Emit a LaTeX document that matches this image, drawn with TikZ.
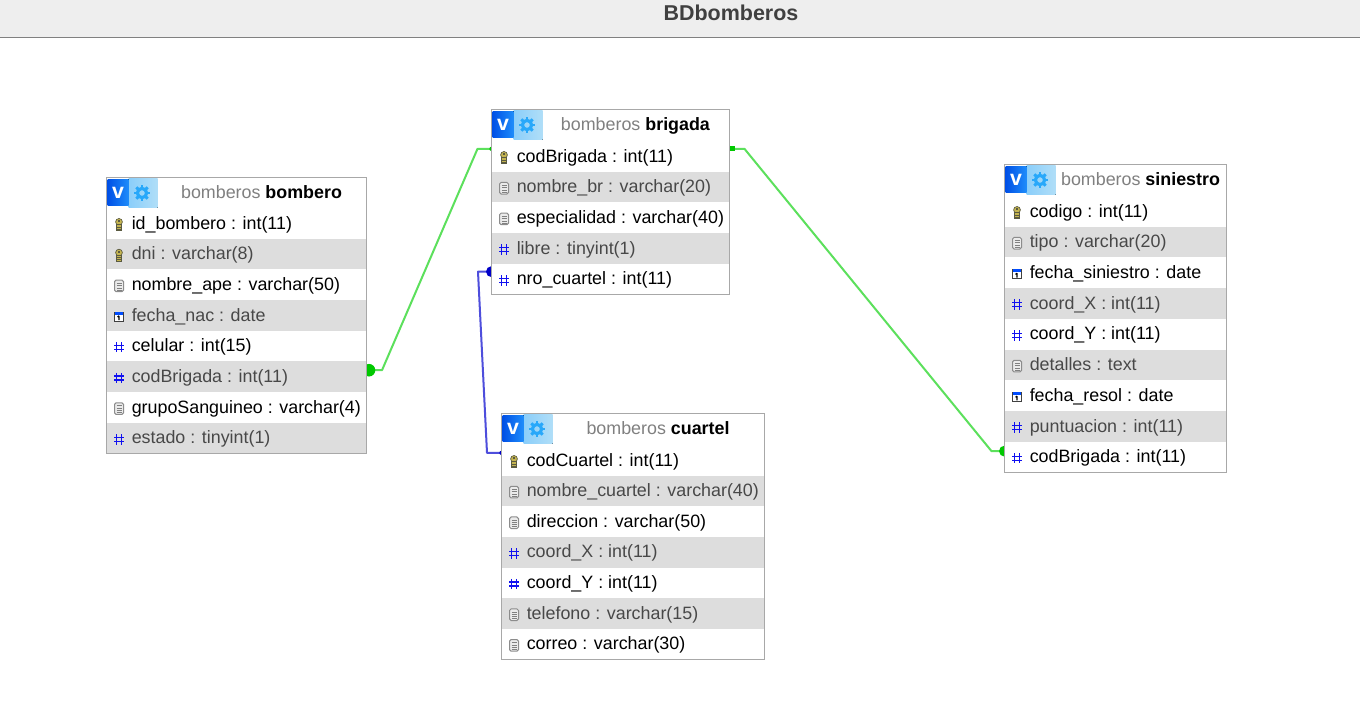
\documentclass[tikz,border=0pt]{standalone}
\usepackage{fontspec}
\setmainfont{Liberation Sans}
\usetikzlibrary{calc}
\pgfdeclarelayer{bg}
\pgfsetlayers{bg,main}
\definecolor{rowgray}{HTML}{DDDDDD}
\definecolor{rowtxtgray}{HTML}{484848}
\definecolor{edge}{HTML}{A8A8A8}
\definecolor{linkgreen}{HTML}{5CE05C}
\definecolor{dotgreen}{HTML}{00C800}
\definecolor{linkblue}{HTML}{4E4EDC}
\definecolor{dotblue}{HTML}{0000C8}
\definecolor{hashblue}{HTML}{1010F0}
\definecolor{gearblue}{HTML}{28A8FA}
\definecolor{vdark}{HTML}{0050E6}
\definecolor{vlight}{HTML}{1E8CFA}
\definecolor{boxa}{HTML}{8ACEFA}
\definecolor{boxb}{HTML}{B0DEF8}
\definecolor{keygold}{HTML}{C4B450}
\definecolor{keydark}{HTML}{5A5A40}
\tikzset{
  band/.style={rectangle,inner sep=0pt,outer sep=0pt,draw=none},
  rowtext/.style={anchor=base west,inner sep=0pt,font=\fontsize{13.4}{16}\selectfont},
  headtext/.style={anchor=base,inner sep=0pt,font=\fontsize{13.4}{16}\selectfont},
  frame/.style={rectangle,inner sep=0pt,outer sep=0pt,draw=edge,line width=0.75pt},
  greenlink/.style={draw=linkgreen,line width=1.5pt,line join=round},
  bluelink/.style={draw=linkblue,line width=1.5pt,line join=round}
}
% icons: #1 x centre, #2 y centre (pixel coordinates)
\newcommand{\ickey}[2]{%
  \begin{scope}[shift={(#1,#2)}]
    \fill[draw=keydark,line width=0.5pt,fill=keygold] (0,-2.6) ellipse (3.4 and 3.4);
    \fill[draw=keydark,line width=0.5pt,fill=keygold] (-2.2,0) rectangle (2.2,6.2);
    \fill[keydark] (-1,-4.2) rectangle (1,-2.6);
    \draw[keydark,line width=0.5pt] (-2.2,2.5) -- (2.2,2.5) (-2.2,4.4) -- (2.2,4.4);
  \end{scope}}
\newcommand{\icdoc}[2]{%
  \begin{scope}[shift={(#1,#2)}]
    \draw[black!45,fill=black!8,line width=0.75pt,rounded corners=1.2pt] (-4.5,-5.8) rectangle (4.5,5.8);
    \foreach \yy in {-2.8,-0.4,2,4}{\draw[black!50,line width=0.55pt] (-2.5,\yy) -- (2.5,\yy);}
  \end{scope}}
\newcommand{\ichash}[2]{%
  \begin{scope}[shift={(#1,#2)}]
    \draw[hashblue,line width=1.05pt] (-2.3,-5.2) -- (-2.3,5.2) (2.3,-5.2) -- (2.3,5.2) (-4.6,-1.9) -- (4.6,-1.9) (-4.6,2) -- (4.6,2);
  \end{scope}}
\newcommand{\iccal}[2]{%
  \begin{scope}[shift={(#1,#2)}]
    \draw[black!75,fill=white,line width=0.7pt] (-4.4,-4.6) rectangle (4.4,5);
    \fill[blue!70!cyan] (-4.4,-4.6) rectangle (4.4,-2);
    \draw[black,line width=0.8pt] (0,-0.8) -- (0,3.6) (-1.5,0.4) -- (0,-0.8);
  \end{scope}}
% table: id, left, top, right, bottom, first row top, row height, title, rows
\newcommand{\erdtable}[9]{%
  \pgfmathsetmacro{\tw}{#4-#2}
  \foreach \ic/\txt [count=\i] in {#9}{%
    \pgfmathsetmacro{\ry}{#6+(\i-1)*#7}
    \ifodd\i\def\rowfill{white}\def\rowink{black}\else\def\rowfill{rowgray}\def\rowink{rowtxtgray}\fi
    \node[band,anchor=north west,fill=\rowfill,minimum width={\tw*0.75pt},minimum height={#7*0.75pt}] (#1-\i) at (#2,\ry) {};
    \node[rowtext,text=\rowink] (#1-t\i) at ($(#1-\i.north west)+(25,21)$) {\txt};
    \csname ic\ic\endcsname{#2+12.5}{\ry+16.5}
  }
  \node[frame,anchor=north west,minimum width={\tw*0.75pt},minimum height={(#5-#3)*0.75pt}] (#1) at (#2,#3) {};
  \fill[left color=boxa,right color=boxb] (#2+22,#3+1) rectangle (#2+51,#3+30);
  \fill[left color=vdark,right color=vlight] (#2+1,#3+1.5) rectangle (#2+22,#3+27.5);
  \node[inner sep=0pt,text=white,font=\fontsize{16}{18}\bfseries\selectfont] (#1-v) at (#2+11.5,#3+15) {v};
  \begin{scope}[shift={(#2+35.5,#3+15.5)}]
    \foreach \a in {0,45,...,315}{\draw[gearblue,line width=2.2pt] (\a:5) -- (\a:8);}
    \draw[gearblue,line width=2.4pt] (0,0) circle (4.6);
  \end{scope}
  \node[headtext] (#1-title) at ({(#2+50+#4)/2},#3+20.8) {\textcolor{black!50}{bomberos} \textbf{#8}};
}
\begin{document}
\begin{tikzpicture}[x=0.75pt,y=-0.75pt]
\useasboundingbox (0,0) rectangle (1360,700);
\begin{pgfonlayer}{bg}
  \fill[white] (0,0) rectangle (1360,700);
  \fill[black!6.5] (0,0) rectangle (1360,37.5);
  \draw[black!50,line width=0.75pt] (0,37.5) -- (1360,37.5);
\end{pgfonlayer}
\node[inner sep=0pt,anchor=base,text=black!75,font=\fontsize{16.1}{18}\bfseries\selectfont] (pagetitle) at (731,20) {BDbomberos};

\erdtable{bombero}{106.5}{177.5}{366.5}{453.5}{208}{30.69}{bombero}{%
  key/id\_bombero : int(11),key/dni : varchar(8),doc/nombre\_ape : varchar(50),cal/fecha\_nac : date,hash/celular : int(15),hash/codBrigada : int(11),doc/grupoSanguineo : varchar(4),hash/estado : tinyint(1)}
\erdtable{brigada}{491.5}{109.5}{729.5}{294.5}{141}{30.7}{brigada}{%
  key/codBrigada : int(11),doc/nombre\_br : varchar(20),doc/especialidad : varchar(40),hash/libre : tinyint(1),hash/nro\_cuartel : int(11)}
\erdtable{cuartel}{501.5}{413.5}{764.5}{659.5}{445}{30.64}{cuartel}{%
  key/codCuartel : int(11),doc/nombre\_cuartel : varchar(40),doc/direccion : varchar(50),hash/coord\_X : int(11),hash/coord\_Y : int(11),doc/telefono : varchar(15),doc/correo : varchar(30)}
\erdtable{siniestro}{1004.5}{164.5}{1226.5}{472.5}{196}{30.72}{siniestro}{%
  key/codigo : int(11),doc/tipo : varchar(20),cal/fecha\_siniestro : date,hash/coord\_X : int(11),hash/coord\_Y : int(11),doc/detalles : text,cal/fecha\_resol : date,hash/puntuacion : int(11),hash/codBrigada : int(11)}

\begin{pgfonlayer}{bg}
  % bombero.codBrigada -- brigada.codBrigada
  \coordinate (a1) at ($(bombero-6.east)+(0,-6.6)$);
  \coordinate (a2) at ($(brigada-1.west)+(0,-7.5)$);
  \draw[greenlink] (a1) -- ($(a1)+(15.5,0)$) -- ($(a2)+(-14,0)$) -- (a2);
  \fill[dotgreen] ($(a1)+(2.5,0)$) circle (6.3);
  \fill[dotgreen] (a2) circle (2.2);
  % brigada.codBrigada -- siniestro.codBrigada
  \coordinate (b1) at ($(brigada-1.east)+(0,-7.5)$);
  \coordinate (b2) at ($(siniestro-9.west)+(0,-6)$);
  \draw[greenlink] (b1) -- ($(b1)+(15,0)$) -- ($(b2)+(-13,0)$) -- (b2);
  \fill[dotgreen] ($(b1)+(0.5,-2.5)$) rectangle ($(b1)+(5.5,2.5)$);
  \fill[dotgreen] (b2) circle (5.5);
  % brigada.nro_cuartel -- cuartel.codCuartel
  \coordinate (c1) at ($(brigada-5.west)+(0,-7.5)$);
  \coordinate (c2) at ($(cuartel-1.west)+(0,-7.5)$);
  \draw[bluelink] (c1) -- ($(c1)+(-13.5,0)$) -- ($(c2)+(-14.5,0)$) -- (c2);
  \fill[dotblue] (c1) circle (5.5);
  \fill[dotblue] (c2) circle (2.2);
\end{pgfonlayer}
\end{tikzpicture}
\end{document}
